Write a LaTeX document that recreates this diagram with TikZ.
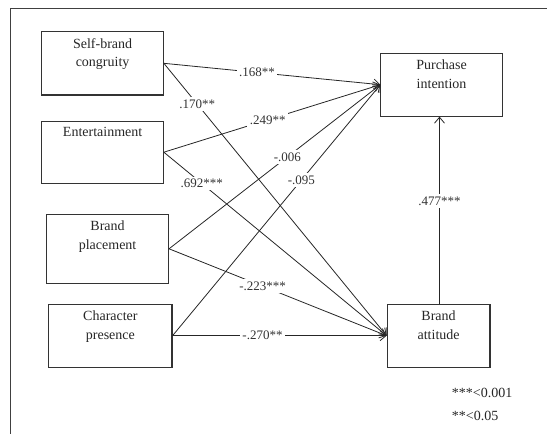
\documentclass[tikz,border=0pt]{standalone}
\usepackage{fontspec}
\setmainfont{Liberation Serif}
\usepackage{tikz}
\usetikzlibrary{arrows.meta}
\newcommand\linewd{.8pt}
\newcommand\boxwd{1.1pt}
\newcommand\framewd{1.4pt}
\tikzset{>={Straight Barb[length=6pt, width=10pt]}}
\tikzset{
    heading/.style={label={[anchor=north, align=center, inner sep=0pt, yshift=-7pt,
      font=\fontsize{14}{18.5}\selectfont, text=black!85]north:{#1}}}
}
\tikzstyle{factor} = [draw=black!80, line width=\boxwd, rectangle, inner sep=0pt]
\tikzstyle{effect} = [line width=\linewd, draw=black!85]
\tikzstyle{coef}   = [fill=white, inner sep=2.5pt, font=\fontsize{13}{15}\selectfont, text=black!80]
\tikzstyle{frame}  = [line width=\framewd, draw=black!75]

\begin{document}
\begin{tikzpicture}[x=1pt, y=-1pt]
  \useasboundingbox (0,0) rectangle (547,434);
  \draw[frame] (547,8.5) -- (10.5,8.5) -- (10.5,434);
  % constructs
  \draw (102.6,63.3) node[factor, minimum width=121.4pt, minimum height=63.3pt,
    heading={Self-brand\\congruity}] (sbc) {};
  \draw (102.6,152.2) node[factor, minimum width=121.4pt, minimum height=62.3pt,
    heading={Entertainment}] (ent) {};
  \draw (107.6,248.8) node[factor, minimum width=121.8pt, minimum height=69pt,
    heading={Brand\\placement}] (bpl) {};
  \draw (110.4,335.7) node[factor, minimum width=123.2pt, minimum height=62.7pt,
    heading={Character\\presence}] (chp) {};
  \draw (441.6,84.7) node[factor, minimum width=121.4pt, minimum height=62.7pt,
    heading={Purchase\\intention}] (pin) {};
  \draw (438.6,335.7) node[factor, minimum width=102.8pt, minimum height=62.7pt,
    heading={Brand\\attitude}] (bat) {};
  % paths
  \draw[effect] (sbc.east) -- (pin.west) [->] node[coef, pos=.43] {.168**};
  \draw[effect] (sbc.east) -- (bat.west) [->] node[coef, pos=.15] {.170**};
  \draw[effect] (ent.east) -- (pin.west) [->] node[coef, pos=.48] {.249**};
  \draw[effect] (ent.east) -- (bat.west) [->] node[coef, pos=.17] {.692***};
  \draw[effect] (bpl.east) -- (pin.west) [->] node[coef, pos=.56] {-.006};
  \draw[effect] (bpl.east) -- (bat.west) [->] node[coef, pos=.43] {-.223***};
  \draw[effect] (chp.east) -- (pin.west) [->] node[coef, pos=.62] {-.095};
  \draw[effect] (chp.east) -- (bat.west) [->] node[coef, pos=.42] {-.270**};
  \draw[effect] (bat.north -| 439.5,0) -- (439.5,0 |- pin.south) [->]
    node[coef, pos=.55] {.477***};
  % significance
  \draw (451.7,404) node[anchor=west, align=left, inner sep=0pt,
    font=\fontsize{14}{23}\selectfont, text=black!85] (sig) {***<0.001\\**<0.05};
\end{tikzpicture}
\end{document}
